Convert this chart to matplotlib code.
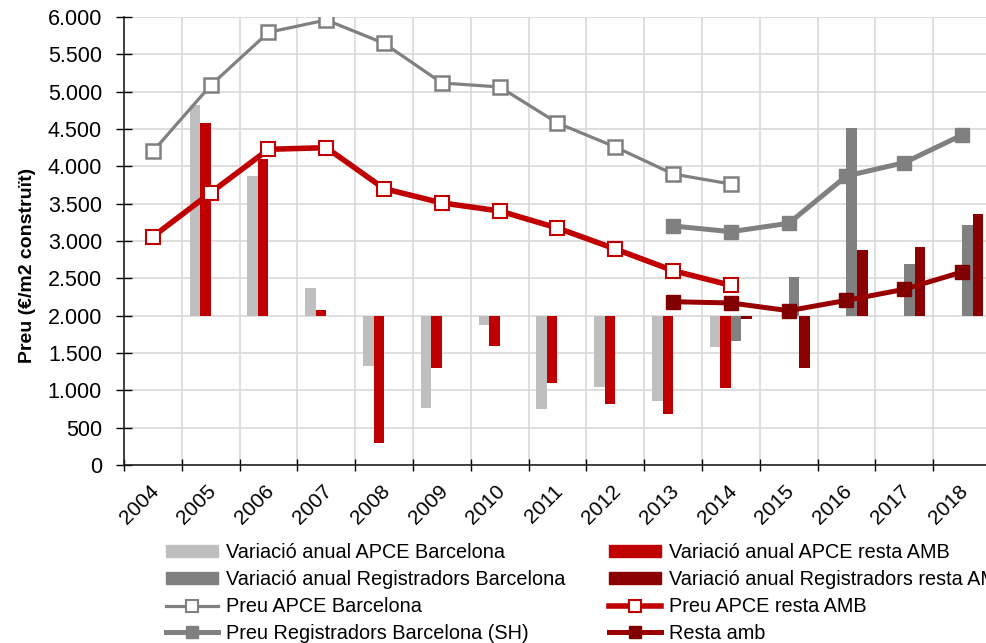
import numpy as np
import matplotlib
matplotlib.use('Agg')
import matplotlib.pyplot as plt
from matplotlib.ticker import FuncFormatter, FixedLocator
from matplotlib.lines import Line2D
from matplotlib.patches import Patch
from matplotlib.transforms import ScaledTranslation

plt.rcParams['font.family'] = ['Liberation Sans', 'DejaVu Sans']

nan = np.nan
years = ['2004', '2005', '2006', '2007', '2008', '2009', '2010', '2011',
         '2012', '2013', '2014', '2015', '2016', '2017', '2018']

# Prices (EUR/m2 built)
preu_apce_bcn = [4200, 5085, 5795, 5960, 5647, 5116, 5063, 4580, 4259, 3897, 3763, nan, nan, nan, nan]
preu_apce_amb = [3058, 3647, 4228, 4250, 3701, 3510, 3402, 3174, 2893, 2603, 2406, nan, nan, nan, nan]
preu_reg_bcn = [nan, nan, nan, nan, nan, nan, nan, nan, nan, 3201, 3125, 3237, 3871, 4049, 4420]
preu_reg_amb = [nan, nan, nan, nan, nan, nan, nan, nan, nan, 2187, 2170, 2067, 2205, 2353, 2585]

# Annual variation (%)
var_apce_bcn = [nan, 21.2, 14.0, 2.8, -5.1, -9.3, -0.9, -9.4, -7.2, -8.6, -3.1, nan, nan, nan, nan]
var_apce_amb = [nan, 19.4, 15.7, 0.6, -12.8, -5.3, -3.0, -6.8, -8.9, -9.9, -7.3, nan, nan, nan, nan]
var_reg_bcn = [nan, nan, nan, nan, nan, nan, nan, nan, nan, nan, -2.5, 3.9, 18.9, 5.2, 9.1]
var_reg_amb = [nan, nan, nan, nan, nan, nan, nan, nan, nan, nan, -0.3, -5.3, 6.6, 6.9, 10.2]

LGREY = '#BFBFBF'
DGREY = '#808080'
RED = '#C00000'
DRED = '#8B0000'

W, H = 987, 643
fig = plt.figure(figsize=(W / 100, H / 100), dpi=100)
fig.patch.set_facecolor('white')

left_px, right_px, top_px, bot_px = 124, 124 + 15 * 57.8, 17, 465
ax = fig.add_axes([left_px / W, 1 - bot_px / H, (right_px - left_px) / W, (bot_px - top_px) / H])
axb = ax.twinx()
ax.set_zorder(2)
axb.set_zorder(1)
ax.patch.set_visible(False)

x = np.arange(len(years))

# ---- bars on secondary (hidden) axis ----
bw = 0.182
bar_series = [(var_apce_bcn, LGREY, -1.5), (var_apce_amb, RED, -0.5),
              (var_reg_bcn, DGREY, 0.5), (var_reg_amb, DRED, 1.5)]
for vals, col, off in bar_series:
    v = np.array(vals, dtype=float)
    m = ~np.isnan(v)
    axb.bar(x[m] + off * bw, v[m], width=bw, color=col, linewidth=0)
axb.set_ylim(-15, 30)
axb.set_yticks(np.arange(-15, 30.01, 3.75))
axb.tick_params(right=False, labelright=False)
axb.xaxis.set_visible(True)
axb.tick_params(axis='x', which='both', bottom=False, top=False, labelbottom=False, labeltop=False)
axb.grid(True, which='major', axis='both', color='#D9D9D9', linewidth=1.2)
axb.set_axisbelow(True)
for s in axb.spines.values():
    s.set_visible(False)

# ---- lines on primary axis ----
ax.plot(x, preu_apce_bcn, color=DGREY, lw=2.3, marker='s', ms=10.5,
        mfc='white', mec=DGREY, mew=1.8, label='Preu APCE Barcelona')
ax.plot(x, preu_apce_amb, color=RED, lw=4, marker='s', ms=10.5,
        mfc='white', mec=RED, mew=1.5, label='Preu APCE resta AMB')
ax.plot(x, preu_reg_bcn, color=DGREY, lw=3.6, marker='s', ms=10.5,
        mfc=DGREY, mec=DGREY, label='Preu Registradors Barcelona (SH)')
ax.plot(x, preu_reg_amb, color='#990000', lw=3.6, marker='s', ms=10.5,
        mfc='#800000', mec='#800000', label='Resta amb')

ax.set_xlim(-0.5, len(years) - 0.5)
ax.set_ylim(0, 6000)
ax.set_yticks(np.arange(0, 6001, 500))
ax.yaxis.set_major_formatter(FuncFormatter(lambda v, p: f"{int(v):,}".replace(',', '.')))
ax.tick_params(axis='y', direction='inout', length=11.5, width=1, labelsize=15.5, pad=10)

ax.xaxis.set_major_locator(FixedLocator(np.arange(-0.5, len(years), 1.0)))
ax.xaxis.set_minor_locator(FixedLocator(x))
ax.set_xticklabels([], minor=False)
ax.set_xticklabels(years, minor=True, rotation=45, ha='right', va='top',
                   rotation_mode='anchor', fontsize=15)
ax.tick_params(axis='x', which='major', direction='inout', length=9, width=1)
ax.tick_params(axis='x', which='minor', length=0, pad=12)
shift = ScaledTranslation(-4 / 100, 0, fig.dpi_scale_trans)
for lab in ax.get_xticklabels(minor=True):
    lab.set_transform(lab.get_transform() + shift)
ax.grid(False)
for s in ['top', 'right']:
    ax.spines[s].set_visible(False)
for s in ['left', 'bottom']:
    ax.spines[s].set_color('#222222')
    ax.spines[s].set_linewidth(1.2)

fig.text(28 / W, 1 - 265 / H, 'Preu (€/m2 construït)', rotation=90, ha='center', va='center',
         fontsize=14, fontweight='bold')

# ---- legends ----
h_left = [Patch(color=LGREY, label='Variació anual APCE Barcelona'),
          Patch(color=DGREY, label='Variació anual Registradors Barcelona'),
          Line2D([], [], color=DGREY, lw=2.3, marker='s', ms=8, mfc='white', mec=DGREY, mew=1.5,
                 label='Preu APCE Barcelona'),
          Line2D([], [], color=DGREY, lw=3.6, marker='s', ms=8, mfc=DGREY, mec=DGREY,
                 label='Preu Registradors Barcelona (SH)')]
h_right = [Patch(color=RED, label='Variació anual APCE resta AMB'),
           Patch(color=DRED, label='Variació anual Registradors resta AMB'),
           Line2D([], [], color=RED, lw=4, marker='s', ms=8, mfc='white', mec=RED, mew=1.5,
                  label='Preu APCE resta AMB'),
           Line2D([], [], color='#990000', lw=3.6, marker='s', ms=8, mfc='#800000', mec='#800000',
                  label='Resta amb')]
common = dict(loc='upper left', frameon=False, fontsize=14.3, borderpad=0, borderaxespad=0,
              handlelength=2.6, handleheight=0.5, handletextpad=0.4, labelspacing=0.4)
fig.legend(handles=h_left, bbox_to_anchor=(166 / W, 1 - 543 / H), **common)
fig.legend(handles=h_right, bbox_to_anchor=(609 / W, 1 - 543 / H), **common)

fig.savefig('out.png', dpi=100)
